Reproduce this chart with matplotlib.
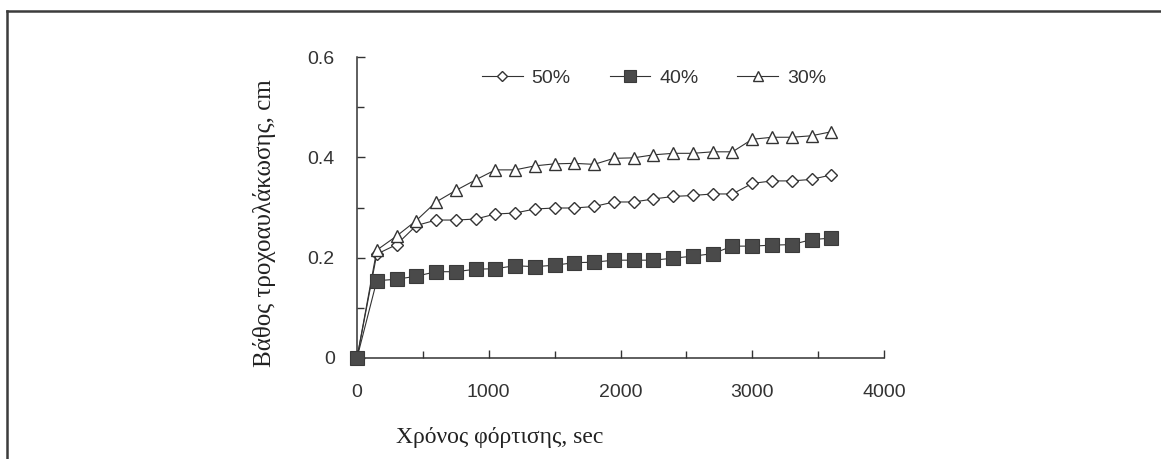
import matplotlib
matplotlib.use("Agg")
import matplotlib.pyplot as plt
from matplotlib.lines import Line2D

# ---- data ----
time_s = [0, 150, 300, 450, 600, 750, 900, 1050, 1200, 1350, 1500, 1650, 1800,
          1950, 2100, 2250, 2400, 2550, 2700, 2850, 3000, 3150, 3300, 3450, 3600]
depth_50 = [0, 0.207, 0.226, 0.264, 0.275, 0.275, 0.277, 0.287, 0.289, 0.297, 0.299, 0.299, 0.302,
            0.311, 0.311, 0.317, 0.322, 0.324, 0.327, 0.327, 0.348, 0.353, 0.353, 0.356, 0.365]
depth_40 = [0, 0.154, 0.157, 0.163, 0.172, 0.172, 0.177, 0.178, 0.184, 0.182, 0.185, 0.190, 0.191,
            0.195, 0.195, 0.195, 0.199, 0.203, 0.208, 0.223, 0.223, 0.225, 0.226, 0.236, 0.239]
depth_30 = [0, 0.215, 0.243, 0.274, 0.311, 0.334, 0.355, 0.375, 0.375, 0.383, 0.387, 0.388, 0.386,
            0.398, 0.399, 0.405, 0.408, 0.408, 0.411, 0.411, 0.436, 0.440, 0.440, 0.443, 0.451]
labels = ["50%", "40%", "30%"]
x_ticks = [0, 1000, 2000, 3000, 4000]
y_ticks = [0, 0.2, 0.4, 0.6]
y_tick_labels = ["0", "0.2", "0.4", "0.6"]
x_label = "Χρόνος φόρτισης, sec"
y_label = "Βάθος τροχοαυλάκωσης, cm"

W, H = 1161, 459
fig = plt.figure(figsize=(W / 100, H / 100), dpi=100)
fig.patch.set_facecolor("white")

ax = fig.add_axes([357 / W, 1 - 358 / H, (884 - 357) / W, (358 - 57) / H])
ink = "#333333"
sans = "Liberation Sans"
serif = "Liberation Serif"

lw = 0.8
h50, = ax.plot(time_s, depth_50, color=ink, lw=lw, marker="D", ms=6.0,
               mfc="white", mec=ink, mew=1.0, clip_on=False, zorder=3)
h40, = ax.plot(time_s, depth_40, color=ink, lw=lw, marker="s", ms=10,
               mfc="#4a4a4a", mec="#3a3a3a", mew=0.8, clip_on=False, zorder=4)
h30, = ax.plot(time_s, depth_30, color=ink, lw=lw, marker="^", ms=9,
               mfc="white", mec=ink, mew=1.0, clip_on=False, zorder=3)

ax.set_xlim(0, 4000)
ax.set_ylim(0, 0.6)
ax.set_xticks(x_ticks)
ax.set_xticks([500, 1500, 2500, 3500], minor=True)
ax.set_yticks(y_ticks)
ax.set_yticklabels(y_tick_labels)
ax.set_yticks([0.1, 0.3, 0.5], minor=True)
for s in ["top", "right"]:
    ax.spines[s].set_visible(False)
for s in ["left", "bottom"]:
    ax.spines[s].set_color(ink)
    ax.spines[s].set_linewidth(1.1)
ax.tick_params(which="both", direction="in", color=ink, width=1.0)
ax.tick_params(which="major", length=6)
ax.tick_params(which="minor", length=5)
ax.tick_params(axis="x", which="major", pad=19, labelsize=14, labelcolor="#333333")
ax.tick_params(axis="y", which="major", pad=16, labelsize=14, labelcolor="#333333")
for t in ax.get_xticklabels() + ax.get_yticklabels():
    t.set_fontfamily(sans)
ax.set_facecolor("none")

leg = ax.legend([h50, h40, h30], labels, ncol=3, frameon=False,
                loc="center left", bbox_to_anchor=(482 / W, 1 - 78 / H),
                bbox_transform=fig.transFigure, borderpad=0, borderaxespad=0,
                handlelength=2.1, handletextpad=0.45, columnspacing=2.0,
                prop={"family": sans, "size": 14}, markerscale=0.85)
for t in leg.get_texts():
    t.set_color("#333333")

fig.text(265 / W, 1 - 223 / H, y_label, rotation=90, ha="center", va="center",
         fontsize=18, family=serif, color="#222222")
fig.text(500 / W, 1 - 437 / H, x_label, ha="center", va="center",
         fontsize=17, family=serif, color="#222222")

# outer frame (top and left edges visible)
fig.add_artist(Line2D([7 / W, 7 / W], [0, 1 - 11 / H], transform=fig.transFigure,
                      color="#3c3c3c", lw=1.8))
fig.add_artist(Line2D([7 / W, 1], [1 - 11 / H, 1 - 11 / H], transform=fig.transFigure,
                      color="#3c3c3c", lw=1.8))

fig.savefig("out.png", dpi=100, facecolor="white")
